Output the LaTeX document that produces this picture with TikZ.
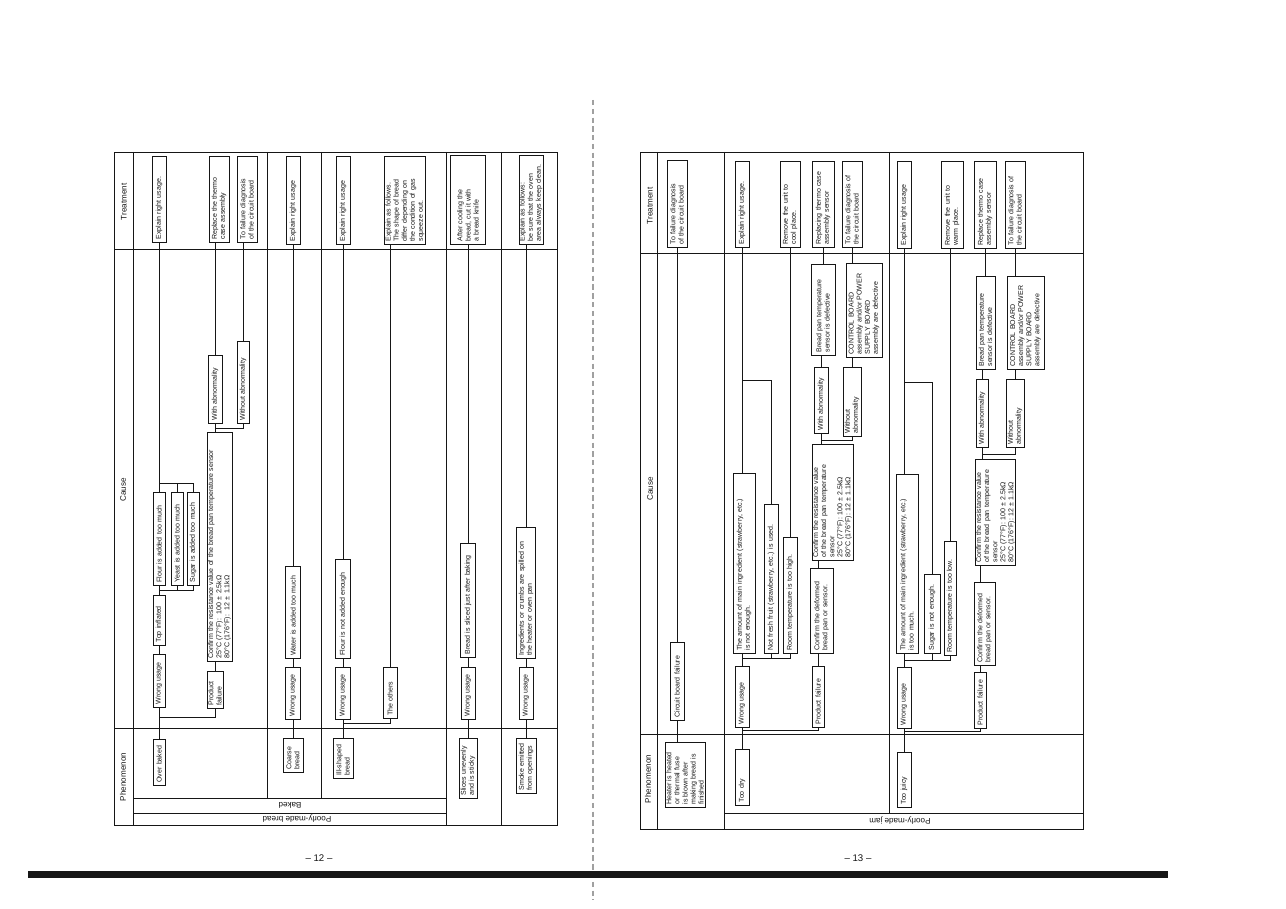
\documentclass[tikz,border=0pt]{standalone}
\usepackage{fontspec}
\setmainfont{Liberation Sans}
\usepackage{tikz}
\usetikzlibrary{calc}
\definecolor{ink}{HTML}{161616}
\definecolor{scan}{HTML}{A0A0A0}
\newcommand\boxtxt{\fontsize{4}{4.6}\selectfont}
\newcommand\headtxt{\fontsize{4.6}{5.2}\selectfont}

\begin{document}
\begin{tikzpicture}[x=0.02cm,y=-0.02cm,
    box/.style={draw=ink,line width=0.5pt,rotate=90,inner xsep=1.5pt,inner ysep=0.4pt,
                align=left,font=\boxtxt,text=ink},
    rule/.style={draw=ink,line width=0.55pt},
    link/.style={draw=ink,line width=0.55pt},
    head/.style={rotate=90,font=\headtxt,text=ink},
    band/.style={rotate=180,font=\headtxt,text=ink}]
  \useasboundingbox (0,0) rectangle (1286,909);
  \fill[white] (0,0) rectangle (1286,909);

  % ---- page 12: table frame
  \draw[rule] (114,152) rectangle (557,825);
  \draw[rule] (133,152) -- (133,825);
  \draw[rule] (114,249) -- (557,249);
  \draw[rule] (114,728) -- (557,728);
  \draw[rule] (267,152) -- (267,798);
  \draw[rule] (321,152) -- (321,798);
  \draw[rule] (446,152) -- (446,825);
  \draw[rule] (501,152) -- (501,825);
  \draw[rule] (133,798) -- (446,798);
  \draw[rule] (133,813) -- (446,813);
  \node[head] at (124,202) {Treatment};
  \node[head] at (123,490) {Cause};
  \node[head] at (123,777) {Phenomenon};
  \node[band] at (290,805.5) {Baked};
  \node[band] at (297,819) {Poorly-made bread};

  % over baked
  \node[box,text width=1.60cm,minimum height=0.28cm] (t1) at (159,199.5) {Explain right usage.};
  \node[box,text width=1.60cm,minimum height=0.40cm] (t2) at (219,199.5) {Replace the thermo\\case assembly};
  \node[box,text width=1.60cm,minimum height=0.40cm] (t3) at (247,199.5) {To failure diagnosis\\of the circuit board};
  \node[box,text width=1.74cm,minimum height=0.24cm] (c1) at (159,539) {Flour is added too much};
  \node[box,text width=1.74cm,minimum height=0.24cm] (c2) at (177,539) {Yeast is added too much};
  \node[box,text width=1.74cm,minimum height=0.24cm] (c3) at (193,539) {Sugar is added too much};
  \node[box,text width=0.88cm,minimum height=0.24cm] (ti) at (159,620.5) {Top inflated};
  \node[box,text width=0.94cm,minimum height=0.24cm] (wu1) at (159,681) {Wrong usage};
  \node[box,text width=0.62cm,minimum height=0.32cm] (pf1) at (215,690) {Product\\failure};
  \node[box,text width=4.46cm,minimum height=0.50cm] (cr1) at (219.5,547)
    {Confirm the resistance value of the bread pan temperature sensor\\
     25°C (77°F):\ \ 100 ± 2.5kΩ\\80°C (176°F):\ \ 12 ± 1.1kΩ};
  \node[box,text width=1.24cm,minimum height=0.28cm] (wa1) at (215,389.5) {With abnormality};
  \node[box,text width=1.52cm,minimum height=0.24cm] (wo1) at (243,382.5) {Without abnormality};
  \node[box,text width=0.80cm,minimum height=0.24cm] (ob) at (159,762.5) {Over baked};
  \coordinate (jA) at (159,483);
  \coordinate (jB) at (159,590);
  \coordinate (jC) at (159,717);
  \coordinate (jD) at (215,428);
  \draw[link] (t1.west) -- (c1.east);
  \draw[link] (c3.east) |- (jA);
  \draw[link] (c2.east) -- (c2.east |- jA);
  \draw[link] (c1.west) -- (ti.east);
  \draw[link] (c3.west) |- (jB);
  \draw[link] (c2.west) -- (c2.west |- jB);
  \draw[link] (ti.west) -- (wu1.east);
  \draw[link] (wu1.west) -- (ob.east);
  \draw[link] (pf1.west) |- (jC);
  \draw[link] (pf1.east) -- (pf1.east |- cr1.west);
  \draw[link] (wa1.west) -- (wa1.west |- cr1.east);
  \draw[link] (wo1.west) |- (jD);
  \draw[link] (wa1.east) -- (wa1.east |- t2.west);
  \draw[link] (wo1.east) -- (wo1.east |- t3.west);

  % coarse bread
  \node[box,text width=1.64cm,minimum height=0.28cm] (t4) at (293,200.5) {Explain right usage};
  \node[box,text width=1.72cm,minimum height=0.30cm] (c4) at (293,612.5) {Water is added too much};
  \node[box,text width=0.92cm,minimum height=0.30cm] (wu2) at (293,693.5) {Wrong usage};
  \node[box,text width=0.56cm,minimum height=0.40cm] (cb) at (293,755.5) {Coarse\\bread};
  \draw[link] (t4.west) -- (c4.east);
  \draw[link] (c4.west) -- (wu2.east);
  \draw[link] (wu2.west) -- (cb.east);

  % ill-shaped bread
  \node[box,text width=1.64cm,minimum height=0.28cm] (t5) at (343,200.5) {Explain right usage};
  \node[box,text width=1.64cm,minimum height=0.80cm] (t6) at (405,200.5)
    {Explain as follows.\\The shape of bread\\differ depending on\\the condition of gas\\squeeze out.};
  \node[box,text width=1.86cm,minimum height=0.30cm] (c5) at (343,609) {Flour is not added enough};
  \node[box,text width=0.92cm,minimum height=0.30cm] (wu3) at (343,693.5) {Wrong usage};
  \node[box,text width=0.90cm,minimum height=0.28cm] (ot) at (390,693) {The others};
  \node[box,text width=0.68cm,minimum height=0.40cm] (ib) at (343,758.5) {Ill-shaped\\bread};
  \coordinate (jE) at (343,723);
  \draw[link] (t5.west) -- (c5.east);
  \draw[link] (c5.west) -- (wu3.east);
  \draw[link] (wu3.west) -- (ib.east);
  \draw[link] (ot.west) |- (jE);
  \draw[link] (ot.east) -- (ot.east |- t6.west);

  % slices unevenly
  \node[box,text width=1.66cm,minimum height=0.70cm] (t7) at (468,200)
    {After cooling the\\bread, cut it with\\a bread knife};
  \node[box,text width=2.16cm,minimum height=0.30cm] (c7) at (468,600.5) {Bread is sliced just after baking};
  \node[box,text width=0.92cm,minimum height=0.28cm] (wu4) at (468,693.5) {Wrong usage};
  \node[box,text width=1.08cm,minimum height=0.36cm] (sl) at (468,768.5) {Slices unevenly\\and is sticky};
  \draw[link] (t7.west) -- (c7.east);
  \draw[link] (c7.west) -- (wu4.east);
  \draw[link] (wu4.west) -- (sl.east);

  % smoke emitted
  \node[box,text width=1.66cm,minimum height=0.48cm] (t8) at (531,200)
    {Explain as follows:\\be sure that the oven\\area always keep clean.};
  \node[box,text width=2.50cm,minimum height=0.38cm] (c8) at (526,593)
    {Ingredients or crumbs are spilled on\\the heater or oven pan};
  \node[box,text width=0.92cm,minimum height=0.28cm] (wu5) at (526,693.5) {Wrong usage};
  \node[box,text width=0.98cm,minimum height=0.40cm] (sm) at (526,766) {Smoke emitted\\from openings};
  \draw[link] (c8.east) -- (c8.east |- t8.west);
  \draw[link] (c8.west) -- (wu5.east);
  \draw[link] (wu5.west) -- (sm.east);

  % ---- page 13: table frame
  \draw[rule] (640,152) rectangle (1083,829);
  \draw[rule] (657,152) -- (657,829);
  \draw[rule] (640,253) -- (1083,253);
  \draw[rule] (640,734) -- (1083,734);
  \draw[rule] (724,152) -- (724,829);
  \draw[rule] (889,152) -- (889,813);
  \draw[rule] (724,813) -- (1083,813);
  \node[head] at (650,206) {Treatment};
  \node[head] at (650,489) {Cause};
  \node[head] at (648,779) {Phenomenon};
  \node[band] at (900,821) {Poorly-made jam};

  % heater / thermal fuse
  \node[box,text width=1.62cm,minimum height=0.40cm] (tA) at (677,204) {To failure diagnosis\\of the circuit board};
  \node[box,text width=1.44cm,minimum height=0.28cm] (cbf) at (677,681.5) {Circuit board failure};
  \node[box,text width=1.18cm,minimum height=0.80cm] (heat) at (685,775)
    {Heater is heated\\or thermal fuse\\is blown after\\making bread is\\finished};
  \draw[link] (tA.west) -- (cbf.east);
  \draw[link] (cbf.west) -- (cbf.west |- heat.east);

  % too dry
  \node[box,text width=1.60cm,minimum height=0.28cm] (tB1) at (742,204.5) {Explain right usage.};
  \node[box,text width=1.60cm,minimum height=0.40cm] (tB2) at (790,204.5) {Remove the unit to\\cool place.};
  \node[box,text width=1.60cm,minimum height=0.44cm] (tB3) at (823,204.5) {Replacing thermo case\\assembly sensor};
  \node[box,text width=1.60cm,minimum height=0.40cm] (tB4) at (852,204.5) {To failure diagnosis of\\the circuit board};
  \node[box,text width=1.70cm,minimum height=0.48cm] (bpB) at (823,310) {Bread pan temperature\\sensor is defective};
  \node[box,text width=1.76cm,minimum height=0.72cm] (ctB) at (864,310.5)
    {CONTROL BOARD\\assembly and/or POWER\\SUPPLY BOARD\\assembly are defective};
  \node[box,text width=1.20cm,minimum height=0.28cm] (waB) at (821,400.5) {With abnormality};
  \node[box,text width=1.26cm,minimum height=0.36cm] (woB) at (852,402) {Without\\abnormality};
  \node[box,text width=2.20cm,minimum height=0.82cm] (crB) at (832.5,502.5)
    {Confirm the resistance value\\of the bread pan temperature\\sensor\\25°C (77°F): 100 ± 2.5kΩ\\80°C (176°F): 12 ± 1.1kΩ};
  \node[box,text width=1.58cm,minimum height=0.46cm] (cdB) at (821.5,611) {Confirm the deformed\\bread pan or sensor.};
  \node[box,text width=1.10cm,minimum height=0.24cm] (pfB) at (818,697) {Product failure};
  \node[box,text width=3.48cm,minimum height=0.44cm] (amB) at (744,563.5)
    {The amount of main ingredient (strawberry, etc.)\\is not enough.};
  \node[box,text width=2.86cm,minimum height=0.28cm] (nfB) at (771,579) {Not fresh fruit (strawberry, etc.) is used.};
  \node[box,text width=2.20cm,minimum height=0.28cm] (rtB) at (790,595.5) {Room temperature is too high.};
  \node[box,text width=1.10cm,minimum height=0.28cm] (wuB) at (742,697) {Wrong usage};
  \node[box,text width=1.00cm,minimum height=0.28cm] (drB) at (742,777.5) {Too dry};
  \coordinate (jB1) at (742,380);
  \coordinate (jB2) at (742,658);
  \coordinate (jB3) at (821,440);
  \coordinate (jB4) at (742,730);
  \draw[link] (tB1.west) -- (tB1.west |- amB.east);
  \draw[link] (nfB.east) |- (jB1);
  \draw[link] (wuB.east) -- (wuB.east |- amB.west);
  \draw[link] (rtB.west) |- (jB2);
  \draw[link] (nfB.west) -- (nfB.west |- jB2);
  \draw[link] (tB2.west) -- (rtB.east);
  \draw[link] (tB3.west) -- (bpB.east);
  \draw[link] (waB.east) -- (waB.east |- bpB.west);
  \draw[link] (woB.west) |- (jB3);
  \draw[link] (waB.west) -- (waB.west |- crB.east);
  \draw[link] (pfB.east |- crB.west) -- (pfB.east |- cdB.east);
  \draw[link] (pfB.east) -- (pfB.east |- cdB.west);
  \draw[link] (pfB.west) |- (jB4);
  \draw[link] (wuB.west) -- (drB.east);
  \draw[link] (tB4.west) -- (tB4.west |- ctB.east);
  \draw[link] (woB.east) -- (woB.east |- ctB.west);

  % too juicy
  \node[box,text width=1.62cm,minimum height=0.28cm] (tC1) at (904,205) {Explain right usage};
  \node[box,text width=1.62cm,minimum height=0.44cm] (tC2) at (952,205) {Remove the unit to\\warm place.};
  \node[box,text width=1.62cm,minimum height=0.44cm] (tC3) at (985,205) {Replace thermo case\\assembly sensor};
  \node[box,text width=1.62cm,minimum height=0.40cm] (tC4) at (1015,205) {To failure diagnosis of\\the circuit board};
  \node[box,text width=1.74cm,minimum height=0.38cm] (bpC) at (985.5,323) {Bread pan temperature\\sensor is defective};
  \node[box,text width=1.74cm,minimum height=0.74cm] (ctC) at (1025.5,323)
    {CONTROL BOARD\\assembly and/or POWER\\SUPPLY BOARD\\assembly are defective};
  \node[box,text width=1.24cm,minimum height=0.24cm] (waC) at (982,413.5) {With abnormality};
  \node[box,text width=1.24cm,minimum height=0.36cm] (woC) at (1015,413.5) {Without\\abnormality};
  \node[box,text width=2.00cm,minimum height=0.78cm] (crC) at (995.5,512.5)
    {Confirm the resistance value\\of the bread pan temperature\\sensor\\25°C (77°F): 100 ± 2.5kΩ\\80°C (176°F): 12 ± 1.1kΩ};
  \node[box,text width=1.54cm,minimum height=0.42cm] (cdC) at (984.5,624) {Confirm the deformed\\bread pan or sensor.};
  \node[box,text width=1.00cm,minimum height=0.24cm] (pfC) at (980,700.5) {Product failure};
  \node[box,text width=3.46cm,minimum height=0.44cm] (amC) at (907,564)
    {The amount of main ingredient (strawberry, etc.)\\is too much.};
  \node[box,text width=1.46cm,minimum height=0.32cm] (suC) at (932,614) {Sugar is not enough.};
  \node[box,text width=2.16cm,minimum height=0.24cm] (rtC) at (950,598.5) {Room temperature is too low.};
  \node[box,text width=1.10cm,minimum height=0.28cm] (wuC) at (904,698) {Wrong usage};
  \node[box,text width=0.98cm,minimum height=0.28cm] (juC) at (904,780) {Too juicy};
  \coordinate (jC1) at (904,382);
  \coordinate (jC2) at (904,660);
  \coordinate (jC3) at (904,731);
  \coordinate (jC4) at (982,454);
  \draw[link] (tC1.west) -- (tC1.west |- amC.east);
  \draw[link] (suC.east) |- (jC1);
  \draw[link] (wuC.east) -- (wuC.east |- amC.west);
  \draw[link] (rtC.west) |- (jC2);
  \draw[link] (suC.west) -- (suC.west |- jC2);
  \draw[link] (rtC.east) -- (rtC.east |- tC2.west);
  \draw[link] (tC3.west) -- (tC3.west |- bpC.east);
  \draw[link] (waC.east) -- (waC.east |- bpC.west);
  \draw[link] (woC.west) |- (jC4);
  \draw[link] (waC.west) -- (waC.west |- crC.east);
  \draw[link] (pfC.east |- crC.west) -- (pfC.east |- cdC.east);
  \draw[link] (pfC.east) -- (pfC.east |- cdC.west);
  \draw[link] (pfC.west) |- (jC3);
  \draw[link] (wuC.west) -- (juC.east);
  \draw[link] (tC4.west) -- (tC4.west |- ctC.east);
  \draw[link] (woC.east) -- (woC.east |- ctC.west);

  % page numbers, gutter and edge of the scan
  \node[font=\fontsize{5.5}{6}\selectfont,text=ink] (pg12) at (319,858) {-- 12 --};
  \node[font=\fontsize{5.5}{6}\selectfont,text=ink] (pg13) at (858,858) {-- 13 --};
  \draw[scan,line width=0.6pt,dash pattern=on 3pt off 2pt] (593,100) -- (593,900);
  \fill[ink] (28,871) rectangle (1168,878);
\end{tikzpicture}
\end{document}
